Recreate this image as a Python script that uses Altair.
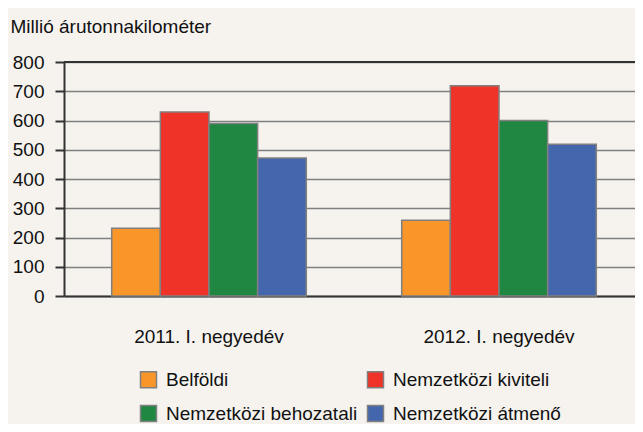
import altair as alt
import pandas as pd

periods = ["2011. I. negyedév", "2012. I. negyedév"]
series = ["Belföldi", "Nemzetközi kiviteli", "Nemzetközi behozatali", "Nemzetközi átmenő"]
values_2011 = [232, 629, 590, 472]
values_2012 = [259, 719, 600, 519]
colors = ["#F8962A", "#EF3329", "#208742", "#4466AD"]
y_ticks = [0, 100, 200, 300, 400, 500, 600, 700, 800]

rows = []
for p, vals in zip(periods, [values_2011, values_2012]):
    for s, v in zip(series, vals):
        rows.append({"period": p, "series": s, "value": v})
df = pd.DataFrame(rows)

FONT = "Liberation Sans"
BG = "#F6F3EF"

bars = alt.Chart(df).mark_bar(stroke="#808080", strokeWidth=1.5).encode(
    x=alt.X("period:N", sort=periods,
            scale=alt.Scale(range=[0, 580], paddingInner=0.329, paddingOuter=0.1645),
            axis=alt.Axis(title=None, labelAngle=0, ticks=False, domain=True,
                          domainColor="#333333", domainWidth=2,
                          labelPadding=31, labelFontSize=19, labelFont=FONT,
                          labelColor="#111111")),
    xOffset=alt.XOffset("series:N", sort=series,
                        scale=alt.Scale(domain=series, paddingInner=0, paddingOuter=0)),
    y=alt.Y("value:Q", scale=alt.Scale(domain=[0, 800], nice=False),
            axis=alt.Axis(values=y_ticks, labelOverlap=False,
                          title="Millió árutonnakilométer",
                          titleAngle=0, titleAlign="left", titleBaseline="alphabetic",
                          titleX=-54, titleY=-30, titleFont=FONT, titleFontSize=19,
                          titleFontWeight="normal", titleColor="#111111",
                          labelFont=FONT, labelFontSize=19, labelColor="#111111",
                          labelPadding=11, tickSize=9, tickColor="#333333", tickWidth=2,
                          domainColor="#333333", domainWidth=2,
                          grid=True, gridColor="#808080", gridWidth=1.5)),
    color=alt.Color("series:N", sort=series,
                    scale=alt.Scale(domain=series, range=colors),
                    legend=alt.Legend(title=None, orient="none", legendX=75, legendY=308,
                                      direction="horizontal", values=series,
                                      columns=2, columnPadding=6, rowPadding=11,
                                      symbolType="square", symbolSize=256,
                                      symbolStrokeColor="#808080", symbolStrokeWidth=1.5,
                                      labelOffset=8, labelFont=FONT, labelFontSize=19,
                                      labelColor="#111111", labelLimit=400)),
)

top_rule = alt.Chart(pd.DataFrame({"y": [800]})).mark_rule(
    color="#333333", strokeWidth=2).encode(y=alt.value(0))

chart = alt.layer(bars, top_rule).properties(
    width=571, height=234,
    autosize=alt.AutoSizeParams(type="none"),
    padding={"left": 56, "top": 54, "right": 0, "bottom": 128},
    background=BG,
).configure_view(stroke=None)

chart.save("out.html", embed_options={"renderer": "svg", "actions": False})
